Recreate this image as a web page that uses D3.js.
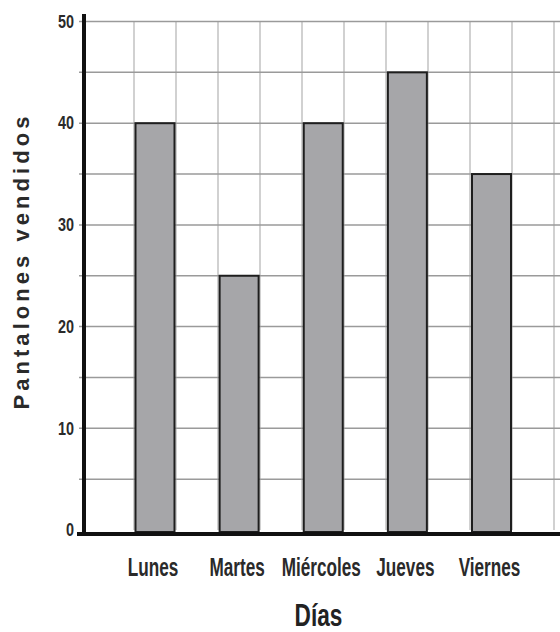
<!DOCTYPE html>
<html>
<head>
<meta charset="utf-8">
<script src="https://cdn.jsdelivr.net/npm/d3@7"></script>
<style>
  html, body { margin: 0; padding: 0; background: #fff; }
  svg { display: block; }
</style>
</head>
<body>
<svg id="chart" width="560" height="632"></svg>
<script>
const days = ["Lunes", "Martes", "Miércoles", "Jueves", "Viernes"];
const sold = [40, 25, 40, 45, 35];
const yTicks = [0, 10, 20, 30, 40, 50];
const yGrid = [5, 10, 15, 20, 25, 30, 35, 40, 45, 50];
const xAxisTitle = "Días";
const yAxisTitle = "Pantalones vendidos";

const svg = d3.select("#chart");
const sans = "'Liberation Sans', Arial, sans-serif";

const y = d3.scaleLinear().domain([0, 50]).range([530, 21.5]);
const xc = d3.scalePoint().domain(days).range([155, 491.5]);
const barW = 39;
const gridX = d3.scaleLinear().domain([0, 10]).range([134, 554]);

// vertical gridlines
svg.append("g").selectAll("line").data(d3.range(0, 11)).join("line")
  .attr("x1", d => gridX(d)).attr("x2", d => gridX(d))
  .attr("y1", y(50)).attr("y2", y(0))
  .attr("stroke", "#b8b8b8").attr("stroke-width", 1.3);

// horizontal gridlines
svg.append("g").selectAll("line").data(yGrid).join("line")
  .attr("x1", 79).attr("x2", 560)
  .attr("y1", d => y(d)).attr("y2", d => y(d))
  .attr("stroke", "#9a9a9a").attr("stroke-width", 1.5);

// bars
svg.append("g").selectAll("rect").data(days).join("rect")
  .attr("x", d => xc(d) - barW / 2)
  .attr("width", barW)
  .attr("y", (d, i) => y(sold[i]))
  .attr("height", (d, i) => y(0) - y(sold[i]) + 2)
  .attr("fill", "#a6a6a9")
  .attr("stroke", "#1e1e1e")
  .attr("stroke-width", 2);

// axes lines
svg.append("line").attr("x1", 84).attr("x2", 84).attr("y1", 14).attr("y2", 536)
  .attr("stroke", "#111").attr("stroke-width", 4);
svg.append("line").attr("x1", 77).attr("x2", 560).attr("y1", 534).attr("y2", 534)
  .attr("stroke", "#111").attr("stroke-width", 4);

// y tick labels
const yAxis = d3.axisLeft(y).tickValues(yTicks).tickSize(0).tickPadding(0);
const gy = svg.append("g").attr("transform", "translate(74,0)").call(yAxis);
gy.select(".domain").remove();
gy.attr("font-family", null).attr("font-size", null);
gy.selectAll("text")
  .attr("font-family", sans)
  .attr("font-weight", "bold")
  .attr("font-size", 18)
  .attr("fill", "#2a2a2a")
  .attr("transform", "scale(0.8,1)");

// x labels
svg.append("g").selectAll("text").data(days).join("text")
  .attr("transform", d => `translate(${xc(d) - 2},576) scale(0.66,1)`)
  .attr("text-anchor", "middle")
  .attr("font-family", sans)
  .attr("font-weight", "bold")
  .attr("font-size", 26)
  .attr("fill", "#2a2a2a")
  .text(d => d);

// x title
svg.append("text")
  .attr("transform", "translate(318.5,626) scale(0.73,1)")
  .attr("text-anchor", "middle")
  .attr("font-family", sans)
  .attr("font-weight", "bold")
  .attr("font-size", 31)
  .attr("fill", "#222")
  .text(xAxisTitle);

// y title
svg.append("text")
  .attr("transform", "translate(29,263) rotate(-90)")
  .attr("text-anchor", "middle")
  .attr("font-family", sans)
  .attr("font-weight", "bold")
  .attr("font-size", 22)
  .attr("fill", "#2a2a2a")
  .attr("textLength", 293)
  .attr("lengthAdjust", "spacing")
  .text(yAxisTitle);
</script>
</body>
</html>
